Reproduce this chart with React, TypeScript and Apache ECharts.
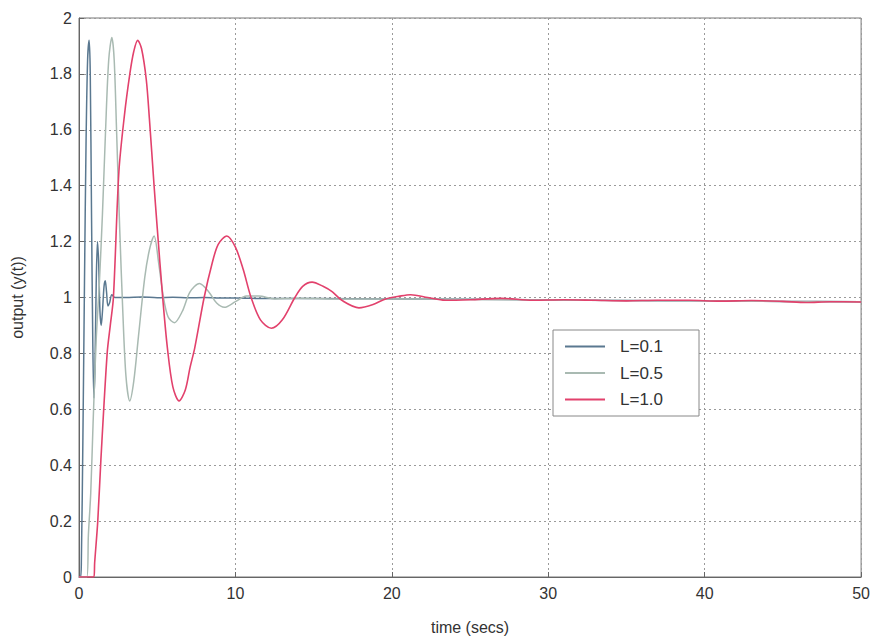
import React, { useEffect, useRef } from "react";
import * as echarts from "echarts";

// ---- data ----
const seriesNames = ["L=0.1", "L=0.5", "L=1.0"];

const tL01 = [0, 0.1, 0.15, 0.25, 0.35, 0.45, 0.55, 0.65, 0.72, 0.8, 0.88, 0.95, 1.02, 1.1, 1.18, 1.26, 1.34, 1.42, 1.5, 1.6, 1.68, 1.76, 1.85, 1.95, 2.1, 2.3, 3, 4, 5, 6, 7, 8, 9, 10, 12, 15, 20, 25, 30, 35, 40, 45, 50];
const yL01 = [0, 0, 0.05, 0.5, 1.05, 1.55, 1.85, 1.92, 1.8, 1.3, 0.85, 0.64, 0.75, 1.05, 1.2, 1.12, 0.95, 0.9, 0.95, 1.04, 1.06, 1.02, 0.97, 0.98, 1.01, 1.0, 1.0, 1.002, 0.999, 1.001, 0.999, 1.0, 0.998, 0.998, 0.996, 0.996, 0.995, 0.994, 0.991, 0.989, 0.988, 0.986, 0.985];

const tL05 = [0, 0.5, 0.6, 0.75, 0.9, 1.1, 1.3, 1.5, 1.7, 1.9, 2.1, 2.25, 2.4, 2.6, 2.8, 3.0, 3.24, 3.5, 3.8, 4.2, 4.5, 4.8, 5.1, 5.4, 5.7, 6.1, 6.6, 7.1, 7.7, 8.3, 8.8, 9.3, 10.0, 10.7, 11.5, 12.5, 14, 16, 20, 25, 30, 35, 40, 45, 50];
const yL05 = [0, 0, 0.15, 0.3, 0.55, 0.85, 1.05, 1.3, 1.6, 1.85, 1.93, 1.85, 1.6, 1.25, 0.95, 0.72, 0.63, 0.7, 0.86, 1.07, 1.17, 1.22, 1.12, 1.0, 0.93, 0.91, 0.95, 1.02, 1.05, 1.02, 0.98, 0.965, 0.985, 1.005, 1.005, 0.995, 0.997, 0.995, 0.995, 0.993, 0.991, 0.989, 0.988, 0.986, 0.985];

const tL10 = [0, 0.95, 1.0, 1.2, 1.4, 1.8, 2.0, 2.2, 2.55, 2.9, 3.25, 3.5, 3.75, 4.0, 4.3, 4.5, 4.8, 5.0, 5.35, 5.65, 6.0, 6.4, 6.8, 7.1, 7.4, 8.0, 8.5, 8.9, 9.45, 10.0, 10.5, 11.0, 11.6, 12.3, 13.0, 13.8, 14.3, 14.9, 15.6, 16.2, 16.8, 17.9, 18.8, 19.6, 20.5, 21.2, 22.3, 23.4, 25, 27, 29, 31, 33, 35, 37, 39, 41, 43, 45, 46.5, 48, 50];
const yL10 = [0, 0, 0.05, 0.2, 0.42, 0.8, 0.9, 1.0, 1.45, 1.65, 1.8, 1.88, 1.92, 1.89, 1.78, 1.64, 1.4, 1.25, 1.0, 0.82, 0.68, 0.63, 0.67, 0.75, 0.82, 1.0, 1.12, 1.19, 1.22, 1.18, 1.1, 1.0, 0.92, 0.89, 0.92, 1.0, 1.04, 1.055, 1.04, 1.02, 0.99, 0.963, 0.975, 0.995, 1.005, 1.01, 1.0, 0.99, 0.992, 0.997, 0.99, 0.992, 0.99, 0.988, 0.99, 0.99, 0.987, 0.989, 0.986, 0.982, 0.985, 0.984];

const xTicks = { min: 0, max: 50, interval: 10 };
const yTicks = { min: 0, max: 2, interval: 0.2 };

const colors = ["#5a7890", "#a9bab2", "#e2416c"];

const zip = (t: number[], y: number[]) => t.map((v, i) => [v, y[i]]);

export default function App() {
  const ref = useRef<HTMLDivElement>(null);
  useEffect(() => {
    if (!ref.current) return;
    const chart = echarts.init(ref.current, undefined, { renderer: "svg" });
    const font = "Liberation Sans, Arial, sans-serif";
    chart.setOption({
      animation: false,
      backgroundColor: "#ffffff",
      grid: {
        left: 79,
        right: 7,
        top: 18,
        bottom: 65,
        show: true,
        borderColor: "#777",
        borderWidth: 1,
      },
      legend: {
        orient: "vertical",
        left: 553,
        top: 330,
        data: seriesNames,
        icon: "rect",
        itemWidth: 40,
        itemHeight: 2,
        itemGap: 9.5,
        padding: [8, 36, 8, 12],
        backgroundColor: "#ffffff",
        borderColor: "#888",
        borderWidth: 1,
        textStyle: { fontSize: 17, color: "#333", fontFamily: font, padding: [0, 0, 0, 10] },
      },
      xAxis: {
        type: "value",
        min: xTicks.min,
        max: xTicks.max,
        interval: xTicks.interval,
        name: "time (secs)",
        nameLocation: "middle",
        nameGap: 42,
        nameTextStyle: { fontSize: 16, color: "#333", fontFamily: font },
        axisLine: { show: true, lineStyle: { color: "#666" } },
        axisTick: { show: true, inside: true, length: 5, lineStyle: { color: "#666" } },
        axisLabel: { fontSize: 16, color: "#333", fontFamily: font, margin: 8 },
        splitLine: { show: true, lineStyle: { color: "#9a9a9a", type: [2, 3], width: 1 } },
      },
      yAxis: {
        type: "value",
        min: yTicks.min,
        max: yTicks.max,
        interval: yTicks.interval,
        name: "output (y(t))",
        nameLocation: "middle",
        nameGap: 54,
        nameRotate: 90,
        nameTextStyle: { fontSize: 16, color: "#333", fontFamily: font },
        axisLine: { show: true, lineStyle: { color: "#666" } },
        axisTick: { show: true, inside: true, length: 5, lineStyle: { color: "#666" } },
        axisLabel: { fontSize: 16, color: "#333", fontFamily: font, margin: 7 },
        splitLine: { show: true, lineStyle: { color: "#9a9a9a", type: [2, 3], width: 1 } },
      },
      series: [
        { name: seriesNames[0], type: "line", data: zip(tL01, yL01), showSymbol: false, symbol: "none", smooth: 0.3, lineStyle: { color: colors[0], width: 1.5 }, itemStyle: { color: colors[0] } },
        { name: seriesNames[1], type: "line", data: zip(tL05, yL05), showSymbol: false, symbol: "none", smooth: 0.3, lineStyle: { color: colors[1], width: 1.5 }, itemStyle: { color: colors[1] } },
        { name: seriesNames[2], type: "line", data: zip(tL10, yL10), showSymbol: false, symbol: "none", smooth: 0.3, lineStyle: { color: colors[2], width: 1.6 }, itemStyle: { color: colors[2] } },
      ],
    });
    return () => chart.dispose();
  }, []);
  return (
    <div
      ref={ref}
      style={{ position: "absolute", left: 0, top: 0, width: 873, height: 642 }}
    />
  );
}
